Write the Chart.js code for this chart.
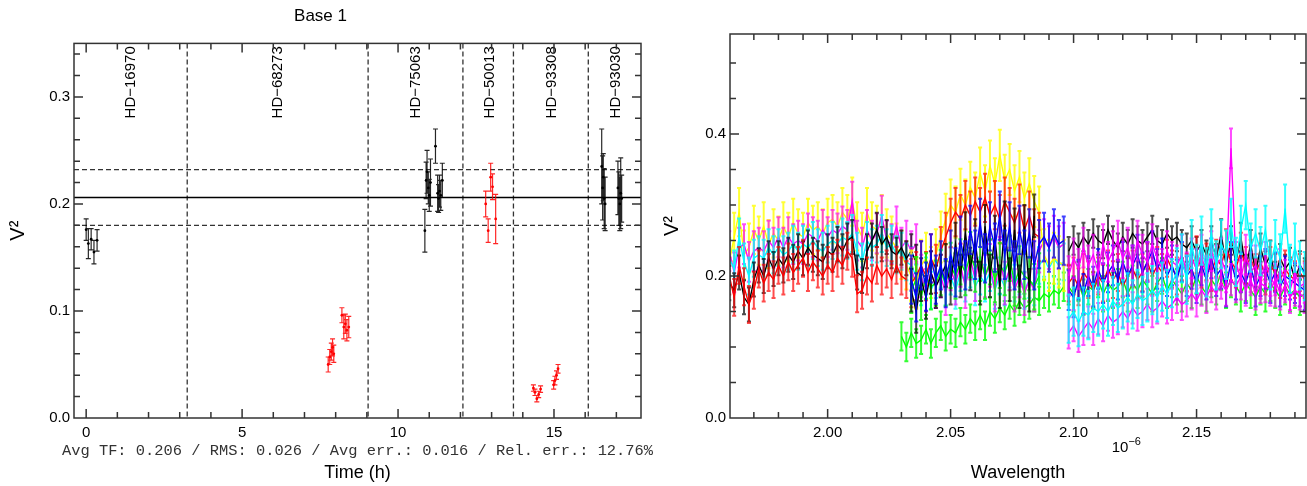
<!DOCTYPE html>
<html>
<head>
<meta charset="utf-8">
<script src="https://cdn.jsdelivr.net/npm/chart.js@4.4.1/dist/chart.umd.min.js"></script>
<style>
  body { margin: 0; background: #fff; }
  canvas { position: absolute; top: 0; }
  #left { left: 0; }
  #right { left: 660px; }
</style>
</head>
<body>
<canvas id="left" width="660" height="486"></canvas>
<canvas id="right" width="647" height="486"></canvas>
<script>
// ---- left panel: transfer function vs time ----
let calT = [0.00, 0.07, 0.16, 0.25, 0.35,
  10.86, 10.90, 10.93, 10.97, 11.00, 11.04, 11.20, 11.27, 11.30, 11.33, 11.37, 11.42,
  16.53, 16.56, 16.58, 16.61, 16.64, 17.05, 17.08, 17.11, 17.14, 17.17];
let calV = [0.176, 0.163, 0.167, 0.155, 0.166,
  0.175, 0.222, 0.230, 0.215, 0.208, 0.220, 0.254, 0.210, 0.205, 0.212, 0.208, 0.222,
  0.235, 0.215, 0.225, 0.205, 0.200, 0.215, 0.205, 0.200, 0.210, 0.205];
let calE = [0.010, 0.014, 0.010, 0.011, 0.010,
  0.020, 0.017, 0.020, 0.015, 0.015, 0.022, 0.016, 0.017, 0.013, 0.015, 0.014, 0.016,
  0.035, 0.030, 0.022, 0.028, 0.025, 0.025, 0.025, 0.025, 0.033, 0.022];

let sciT = [7.76, 7.81, 7.86, 7.90, 7.94, 8.20, 8.26, 8.31, 8.36, 8.42,
  12.81, 12.89, 12.97, 13.03, 13.13,
  14.34, 14.39, 14.45, 14.51, 14.57, 14.99, 15.03, 15.08, 15.13];
let sciV = [0.050, 0.057, 0.062, 0.066, 0.060, 0.096, 0.085, 0.088, 0.082, 0.085,
  0.200, 0.175, 0.225, 0.216, 0.186,
  0.028, 0.024, 0.018, 0.022, 0.027, 0.031, 0.035, 0.040, 0.046];
let sciE = [0.007, 0.007, 0.008, 0.008, 0.008, 0.007, 0.011, 0.009, 0.010, 0.010,
  0.012, 0.011, 0.013, 0.012, 0.023,
  0.003, 0.003, 0.003, 0.003, 0.003, 0.004, 0.004, 0.004, 0.004];

let tfLevels = [0.180, 0.206, 0.232];
let separators = [3.24, 9.04, 12.08, 13.70, 16.10];
let starNames = ['HD\u221216970', 'HD\u221268273', 'HD\u221275063', 'HD\u221250013', 'HD\u221293308', 'HD\u221293030'];
let starPos = [1.42, 6.15, 10.58, 12.95, 14.93, 16.97];
let timeTicks = [0, 5, 10, 15];
let leftV2Ticks = [0, 0.1, 0.2, 0.3];
let statsText = 'Avg TF: 0.206 / RMS: 0.026 / Avg err.: 0.016 / Rel. err.: 12.76%';

// ---- right panel: V2 vs wavelength (micron) ----
let lamA = [1.960, 1.962, 1.964, 1.966, 1.968, 1.970, 1.972, 1.974, 1.976, 1.978,
  1.980, 1.982, 1.984, 1.986, 1.988, 1.990, 1.992, 1.994, 1.996, 1.998,
  2.000, 2.002, 2.004, 2.006, 2.008, 2.010, 2.012, 2.014, 2.016, 2.018,
  2.020, 2.022, 2.024, 2.026, 2.028, 2.030, 2.032, 2.034, 2.036];
let redA = [0.200, 0.170, 0.215, 0.185, 0.160, 0.180, 0.210, 0.190, 0.205, 0.195,
  0.215, 0.200, 0.220, 0.205, 0.215, 0.225, 0.205, 0.220, 0.210, 0.200,
  0.215, 0.205, 0.225, 0.215, 0.235, 0.225, 0.175, 0.180, 0.200, 0.190,
  0.215, 0.200, 0.210, 0.195, 0.215, 0.200, 0.195];
let blackA = [0.190, 0.180, 0.205, 0.170, 0.160, 0.195, 0.215, 0.200, 0.225, 0.210,
  0.225, 0.215, 0.230, 0.220, 0.235, 0.225, 0.240, 0.230, 0.225, 0.220,
  0.235, 0.230, 0.245, 0.235, 0.250, 0.255, 0.205, 0.200, 0.235, 0.250,
  0.265, 0.245, 0.255, 0.235, 0.230, 0.240, 0.225, 0.235, 0.220];
let yellowA = [0.220, 0.255, 0.290, 0.230, 0.240, 0.265, 0.250, 0.270, 0.245, 0.260,
  0.250, 0.270, 0.255, 0.275, 0.260, 0.255, 0.275, 0.265, 0.270, 0.260,
  0.275, 0.280, 0.270, 0.290, 0.280, 0.305, 0.270, 0.255, 0.290, 0.270,
  0.265, 0.280, 0.260, 0.250, 0.240, 0.230, 0.215, 0.200, 0.190];
let magentaA = [0.235, 0.205, 0.240, 0.245, 0.220, 0.235, 0.240, 0.235, 0.250, 0.240,
  0.255, 0.240, 0.255, 0.245, 0.250, 0.245, 0.260, 0.255, 0.250, 0.265,
  0.255, 0.265, 0.260, 0.270, 0.265, 0.305, 0.250, 0.240, 0.265, 0.250,
  0.260, 0.285, 0.250, 0.245, 0.270, 0.240, 0.250, 0.235, 0.245];
let cyanA = [0.225, 0.210, 0.255, 0.220, 0.200, 0.225, 0.230, 0.225, 0.240, 0.230,
  0.240, 0.230, 0.235, 0.245, 0.235, 0.245, 0.240, 0.250, 0.240, 0.235,
  0.245, 0.250, 0.245, 0.255, 0.250, 0.260, 0.235, 0.220, 0.250, 0.240,
  0.245, 0.260, 0.240, 0.245, 0.230, 0.235, 0.220, 0.215, 0.200];

let lamG = [2.030, 2.032, 2.034, 2.036, 2.038, 2.040, 2.042, 2.044, 2.046, 2.048,
  2.050, 2.052, 2.054, 2.056, 2.058, 2.060, 2.062, 2.064, 2.066, 2.068,
  2.070, 2.072, 2.074, 2.076, 2.078, 2.080, 2.082, 2.084, 2.086, 2.088,
  2.090, 2.092, 2.094, 2.096];
let greenLow = [0.115, 0.100, 0.120, 0.105, 0.110, 0.125, 0.105, 0.120, 0.130, 0.115,
  0.125, 0.120, 0.135, 0.125, 0.140, 0.130, 0.145, 0.130, 0.150, 0.140,
  0.155, 0.145, 0.160, 0.150, 0.165, 0.155, 0.160, 0.170, 0.165, 0.175,
  0.170, 0.180, 0.175, 0.185];

let lamB = [2.034, 2.036, 2.038, 2.040, 2.042, 2.044, 2.046, 2.048, 2.050, 2.052,
  2.054, 2.056, 2.058, 2.060, 2.062, 2.064, 2.066, 2.068, 2.070, 2.072,
  2.074, 2.076, 2.078, 2.080, 2.082, 2.084, 2.086, 2.088, 2.090, 2.092,
  2.094, 2.096];
let blueB = [0.195, 0.170, 0.215, 0.185, 0.225, 0.195, 0.215, 0.190, 0.230, 0.205,
  0.250, 0.215, 0.265, 0.230, 0.275, 0.225, 0.270, 0.240, 0.285, 0.230,
  0.270, 0.215, 0.265, 0.230, 0.260, 0.215, 0.245, 0.255, 0.240, 0.260,
  0.245, 0.250];
let yellowB = [0.200, 0.190, 0.215, 0.225, 0.205, 0.230, 0.255, 0.280, 0.300, 0.290,
  0.315, 0.300, 0.325, 0.310, 0.345, 0.320, 0.355, 0.330, 0.370, 0.335,
  0.350, 0.320, 0.340, 0.310, 0.330, 0.305, 0.290, 0.230, 0.215, 0.225,
  0.220, 0.215];
let magentaB = [0.210, 0.190, 0.200, 0.180, 0.205, 0.185, 0.200, 0.175, 0.210, 0.190,
  0.215, 0.185, 0.225, 0.195, 0.230, 0.200, 0.215, 0.180, 0.225, 0.190,
  0.210, 0.180, 0.200, 0.175, 0.195, 0.180, 0.235, 0.250, 0.240, 0.255,
  0.240, 0.245];
let cyanB = [0.205, 0.190, 0.185, 0.200, 0.180, 0.195, 0.210, 0.185, 0.200, 0.180,
  0.205, 0.190, 0.210, 0.185, 0.200, 0.190, 0.205, 0.180, 0.200, 0.185,
  0.210, 0.190, 0.200, 0.180, 0.195, 0.185, 0.215, 0.225, 0.210, 0.225,
  0.215, 0.220];
let redB = [0.190, 0.200, 0.215, 0.200, 0.225, 0.210, 0.235, 0.255, 0.275, 0.290,
  0.280, 0.300, 0.285, 0.305, 0.290, 0.310, 0.285, 0.300, 0.280, 0.305,
  0.290, 0.275, 0.295, 0.265, 0.285, 0.260, 0.255];
let blackB = [0.180, 0.150, 0.195, 0.170, 0.205, 0.185, 0.200, 0.215, 0.190, 0.245,
  0.200, 0.260, 0.210, 0.250, 0.190, 0.270, 0.200, 0.255, 0.185, 0.275,
  0.195, 0.265, 0.185, 0.270, 0.180, 0.285];
let greenB = [0.180, 0.195, 0.170, 0.200, 0.185, 0.190, 0.205, 0.190, 0.215, 0.200,
  0.220, 0.205, 0.230, 0.210, 0.225, 0.200, 0.220, 0.195, 0.215, 0.205,
  0.225, 0.190, 0.210, 0.200, 0.195, 0.185, 0.200];

let lamD = [2.098, 2.100, 2.102, 2.104, 2.106, 2.108, 2.110, 2.112, 2.114, 2.116,
  2.118, 2.120, 2.122, 2.124, 2.126, 2.128, 2.130, 2.132, 2.134, 2.136,
  2.138, 2.140, 2.142, 2.144, 2.146, 2.148, 2.150, 2.152, 2.154, 2.156,
  2.158, 2.160, 2.162, 2.164, 2.166, 2.168, 2.170, 2.172, 2.174, 2.176,
  2.178, 2.180, 2.182, 2.184, 2.186, 2.188, 2.190, 2.192, 2.194];
let blackD = [0.235, 0.250, 0.240, 0.255, 0.245, 0.260, 0.250, 0.245, 0.265, 0.250,
  0.240, 0.255, 0.245, 0.260, 0.250, 0.245, 0.255, 0.265, 0.250, 0.245,
  0.260, 0.250, 0.255, 0.245, 0.240, 0.250, 0.235, 0.245, 0.230, 0.250,
  0.225, 0.260, 0.215, 0.250, 0.220, 0.255, 0.210, 0.245, 0.205, 0.240,
  0.215, 0.230, 0.200, 0.225, 0.210, 0.220, 0.195, 0.215, 0.205];
let magentaLowD = [0.120, 0.130, 0.115, 0.125, 0.135, 0.125, 0.140, 0.130, 0.145, 0.135,
  0.140, 0.150, 0.140, 0.155, 0.145, 0.150, 0.160, 0.150, 0.155, 0.165,
  0.155, 0.160, 0.170, 0.160, 0.165, 0.175, 0.165, 0.180, 0.170, 0.185,
  0.175, 0.190, 0.180, 0.195, 0.185, 0.200, 0.180, 0.195, 0.175, 0.190,
  0.185, 0.180, 0.195, 0.175, 0.185, 0.170, 0.180, 0.175, 0.170];
let magentaHighD = [0.200, 0.225, 0.210, 0.240, 0.215, 0.230, 0.205, 0.245, 0.220, 0.235,
  0.250, 0.225, 0.240, 0.215, 0.250, 0.230, 0.220, 0.245, 0.225, 0.210,
  0.235, 0.220, 0.215, 0.230, 0.205, 0.225, 0.210, 0.230, 0.200, 0.235,
  0.215, 0.225, 0.205, 0.380, 0.220, 0.195, 0.230, 0.205, 0.215, 0.190,
  0.220, 0.200, 0.185, 0.210, 0.195, 0.180, 0.205, 0.185, 0.190];
let cyanD = [0.140, 0.150, 0.135, 0.150, 0.145, 0.155, 0.150, 0.160, 0.150, 0.165,
  0.155, 0.160, 0.170, 0.160, 0.175, 0.165, 0.170, 0.180, 0.170, 0.185,
  0.175, 0.190, 0.205, 0.225, 0.195, 0.245, 0.210, 0.250, 0.205, 0.260,
  0.215, 0.245, 0.230, 0.275, 0.220, 0.265, 0.300, 0.240, 0.260, 0.235,
  0.265, 0.215, 0.245, 0.225, 0.295, 0.210, 0.240, 0.215, 0.200];
let blueD = [0.180, 0.170, 0.195, 0.175, 0.200, 0.185, 0.210, 0.190, 0.205, 0.215,
  0.195, 0.220, 0.200, 0.215, 0.230, 0.205, 0.220, 0.235, 0.210, 0.225,
  0.200, 0.215, 0.195, 0.220, 0.200, 0.210, 0.190, 0.215, 0.195, 0.225,
  0.200, 0.210, 0.185, 0.220, 0.195, 0.205, 0.190, 0.215, 0.185, 0.200,
  0.210, 0.190, 0.205, 0.185, 0.200, 0.195, 0.190, 0.185, 0.180];
let greenD = [0.185, 0.175, 0.190, 0.170, 0.185, 0.180, 0.195, 0.175, 0.190, 0.180,
  0.185, 0.195, 0.175, 0.190, 0.180, 0.195, 0.185, 0.175, 0.190, 0.200,
  0.180, 0.195, 0.185, 0.175, 0.190, 0.180, 0.200, 0.185, 0.175, 0.195,
  0.185, 0.205, 0.180, 0.195, 0.185, 0.175, 0.190, 0.180, 0.170, 0.185,
  0.175, 0.190, 0.180, 0.170, 0.185, 0.175, 0.180, 0.170, 0.175];
let redD = [0.190, 0.200, 0.185, 0.205, 0.195, 0.180, 0.200, 0.190, 0.210, 0.195,
  0.205, 0.185, 0.200, 0.210, 0.195, 0.205, 0.220, 0.200, 0.215, 0.205,
  0.225, 0.210, 0.200, 0.220, 0.205, 0.215, 0.230, 0.210, 0.220, 0.205,
  0.225, 0.215, 0.240, 0.220, 0.210, 0.235, 0.215, 0.225, 0.205, 0.220,
  0.200, 0.215, 0.205, 0.195, 0.210, 0.200, 0.195, 0.205, 0.195];

let lamTicks = [2.00, 2.05, 2.10, 2.15];
let rightV2Ticks = [0, 0.2, 0.4];

Chart.defaults.font.family = '"Liberation Sans", Arial, sans-serif';
Chart.defaults.color = '#000';

function toPoints(xs, ys) {
  return ys.map((v, i) => ({ x: xs[i], y: v }));
}

// vertical error bars, drawn under each dataset's own line/points
const errorBars = {
  id: 'errorBars',
  beforeDatasetDraw(chart, args) {
    let ds = chart.data.datasets[args.index];
    if (!ds.errors) return;
    let ctx = chart.ctx, a = chart.chartArea;
    let xs = chart.scales.x, ys = chart.scales.y;
    let cap = ds.capSize || 2;
    ctx.save();
    ctx.beginPath();
    ctx.rect(a.left, a.top, a.right - a.left, a.bottom - a.top);
    ctx.clip();
    ctx.strokeStyle = ds.barColor || ds.borderColor;
    ctx.lineWidth = ds.barWidth || 1;
    ctx.beginPath();
    ds.data.forEach((p, i) => {
      let e = Array.isArray(ds.errors) ? ds.errors[i] : ds.errors;
      let px = xs.getPixelForValue(p.x);
      let y1 = ys.getPixelForValue(p.y - e);
      let y2 = ys.getPixelForValue(p.y + e);
      ctx.moveTo(px, y1); ctx.lineTo(px, y2);
      ctx.moveTo(px - cap, y1); ctx.lineTo(px + cap, y1);
      ctx.moveTo(px - cap, y2); ctx.lineTo(px + cap, y2);
    });
    ctx.stroke();
    ctx.restore();
  }
};

// box around the plot with inward ticks on all four sides
const frame = {
  id: 'frame',
  afterDraw(chart, args, o) {
    let ctx = chart.ctx, a = chart.chartArea;
    let xs = chart.scales.x, ys = chart.scales.y;
    ctx.save();
    ctx.strokeStyle = '#333';
    ctx.lineWidth = 1.5;
    ctx.strokeRect(a.left, a.top, a.right - a.left, a.bottom - a.top);
    ctx.beginPath();
    for (let k = 0; ; k++) {
      let v = o.xFrom + k * o.xStep;
      if (v > o.xTo + 1e-9) break;
      let r = v / o.xMajor;
      let len = Math.abs(r - Math.round(r)) < 1e-6 ? 9 : 6;
      let p = xs.getPixelForValue(v);
      ctx.moveTo(p, a.bottom); ctx.lineTo(p, a.bottom - len);
      ctx.moveTo(p, a.top); ctx.lineTo(p, a.top + len);
    }
    for (let k = 0; ; k++) {
      let v = o.yFrom + k * o.yStep;
      if (v > o.yTo + 1e-9) break;
      let r = v / o.yMajor;
      let len = Math.abs(r - Math.round(r)) < 1e-6 ? 9 : 6;
      let p = ys.getPixelForValue(v);
      ctx.moveTo(a.left, p); ctx.lineTo(a.left + len, p);
      ctx.moveTo(a.right, p); ctx.lineTo(a.right - len, p);
    }
    ctx.stroke();
    ctx.restore();
  }
};

// reference lines, star names and statistics line of the left panel
const leftDecor = {
  id: 'leftDecor',
  beforeDatasetsDraw(chart) {
    let ctx = chart.ctx, a = chart.chartArea;
    let xs = chart.scales.x, ys = chart.scales.y;
    ctx.save();
    ctx.strokeStyle = '#333';
    ctx.lineWidth = 1.3;
    ctx.setLineDash([5, 3]);
    separators.forEach(t => {
      let p = xs.getPixelForValue(t);
      ctx.beginPath(); ctx.moveTo(p, a.top); ctx.lineTo(p, a.bottom); ctx.stroke();
    });
    tfLevels.forEach((v, i) => {
      let p = ys.getPixelForValue(v);
      ctx.setLineDash(i === 1 ? [] : [5, 3]);
      ctx.strokeStyle = i === 1 ? '#000' : '#333';
      ctx.beginPath(); ctx.moveTo(a.left, p); ctx.lineTo(a.right, p); ctx.stroke();
    });
    ctx.fillStyle = '#000';
    ctx.font = '15px "Liberation Sans", Arial, sans-serif';
    ctx.textAlign = 'left';
    ctx.textBaseline = 'middle';
    starNames.forEach((name, i) => {
      ctx.save();
      ctx.translate(xs.getPixelForValue(starPos[i]), a.top + 75);
      ctx.rotate(-Math.PI / 2);
      ctx.fillText(name, 0, 0);
      ctx.restore();
    });
    ctx.restore();
  },
  afterDraw(chart) {
    let ctx = chart.ctx, a = chart.chartArea;
    ctx.save();
    ctx.fillStyle = '#333';
    ctx.font = '15.4px "Liberation Mono", "Courier New", monospace';
    ctx.textAlign = 'center';
    ctx.textBaseline = 'alphabetic';
    ctx.fillText(statsText, (a.left + a.right) / 2, a.bottom + 37);
    ctx.restore();
  }
};

// exponent note of the wavelength axis
const rightDecor = {
  id: 'rightDecor',
  afterDraw(chart) {
    let ctx = chart.ctx, a = chart.chartArea;
    let x0 = chart.scales.x.getPixelForValue(2.1155);
    ctx.save();
    ctx.fillStyle = '#000';
    ctx.textAlign = 'left';
    ctx.textBaseline = 'alphabetic';
    ctx.font = '15px "Liberation Sans", Arial, sans-serif';
    ctx.fillText('10', x0, a.bottom + 34);
    let w = ctx.measureText('10').width;
    ctx.font = '11px "Liberation Sans", Arial, sans-serif';
    ctx.fillText('\u22126', x0 + w, a.bottom + 27);
    ctx.restore();
  }
};

new Chart(document.getElementById('left'), {
  type: 'scatter',
  data: {
    datasets: [
      { data: toPoints(sciT, sciV), errors: sciE, borderColor: '#ff0000', backgroundColor: '#ff0000',
        barColor: 'rgba(255,0,0,0.85)', barWidth: 1.2, pointRadius: 1.4, pointBorderWidth: 0, capSize: 2.5, showLine: false },
      { data: toPoints(calT, calV), errors: calE, borderColor: '#000', backgroundColor: '#000',
        barColor: 'rgba(0,0,0,0.85)', barWidth: 1.2, pointRadius: 1.4, pointBorderWidth: 0, capSize: 2.5, showLine: false }
    ]
  },
  options: {
    responsive: false,
    animation: false,
    layout: { padding: { left: 0, right: 19, top: 0, bottom: 0 } },
    plugins: {
      legend: { display: false },
      tooltip: { enabled: false },
      title: { display: true, text: 'Base 1', color: '#000',
        font: { size: 17, weight: 'normal' }, padding: { top: 6, bottom: 17 } },
      frame: { xFrom: 0, xTo: 17, xStep: 1, xMajor: 5, yFrom: 0.02, yTo: 0.34, yStep: 0.02, yMajor: 0.1 }
    },
    scales: {
      x: {
        type: 'linear', min: -0.39, max: 17.79,
        grid: { display: false, drawTicks: false }, border: { display: false },
        afterBuildTicks: s => { s.ticks = timeTicks.map(v => ({ value: v })); },
        afterFit: s => { s.height = 68; },
        ticks: { font: { size: 15 }, padding: 6, maxRotation: 0, callback: v => String(v) },
        title: { display: true, text: 'Time (h)', font: { size: 18 }, padding: { top: 0, bottom: 2 } }
      },
      y: {
        type: 'linear', min: 0, max: 0.35,
        grid: { display: false, drawTicks: false }, border: { display: false },
        afterBuildTicks: s => { s.ticks = leftV2Ticks.map(v => ({ value: v })); },
        afterFit: s => { s.width = 74; },
        ticks: { font: { size: 15 }, padding: 4, callback: v => v.toFixed(1) },
        title: { display: true, text: 'V\u00b2', font: { size: 20 }, padding: { top: 6, bottom: 0 } }
      }
    }
  },
  plugins: [errorBars, frame, leftDecor]
});

// back-to-front list of spectra: [wavelengths, values, error, colour, bar colour]
let spectra = [
  [lamA, yellowA, 0.034, '#ffff00', 'rgba(255,255,0,0.8)'],
  [lamA, magentaA, 0.028, '#ff00ff', 'rgba(255,0,255,0.7)'],
  [lamA, cyanA, 0.026, '#00ffff', 'rgba(0,255,255,0.8)'],
  [lamA, blackA, 0.024, '#000000', 'rgba(0,0,0,0.7)'],
  [lamA, redA, 0.026, '#ff0000', 'rgba(255,0,0,0.7)'],
  [lamG, greenLow, 0.020, '#00ff00', 'rgba(0,255,0,0.8)'],
  [lamB, cyanB, 0.026, '#00ffff', 'rgba(0,255,255,0.8)'],
  [lamB, magentaB, 0.030, '#ff00ff', 'rgba(255,0,255,0.7)'],
  [lamB, yellowB, 0.036, '#ffff00', 'rgba(255,255,0,0.8)'],
  [lamB, redB, 0.034, '#ff0000', 'rgba(255,0,0,0.7)'],
  [lamB, greenB, 0.032, '#00ff00', 'rgba(0,255,0,0.8)'],
  [lamB, blackB, 0.030, '#000000', 'rgba(0,0,0,0.7)'],
  [lamB, blueB, 0.034, '#0000ff', 'rgba(0,0,255,0.75)'],
  [lamD, blackD, 0.020, '#000000', 'rgba(0,0,0,0.7)'],
  [lamD, greenD, 0.025, '#00ff00', 'rgba(0,255,0,0.8)'],
  [lamD, redD, 0.026, '#ff0000', 'rgba(255,0,0,0.7)'],
  [lamD, blueD, 0.028, '#0000ff', 'rgba(0,0,255,0.75)'],
  [lamD, magentaHighD, 0.028, '#ff00ff', 'rgba(255,0,255,0.7)'],
  [lamD, magentaLowD, 0.022, '#ff00ff', 'rgba(255,0,255,0.7)'],
  [lamD, cyanD, 0.034, '#00ffff', 'rgba(0,255,255,0.8)']
];

let spectraSets = spectra.map(s => ({
  data: toPoints(s[0], s[1]),
  errors: s[2],
  borderColor: s[3],
  backgroundColor: s[3],
  barColor: s[4],
  borderWidth: 1.4,
  barWidth: 2,
  capSize: 2,
  pointRadius: 0,
  showLine: true,
  tension: 0
})).reverse();

new Chart(document.getElementById('right'), {
  type: 'scatter',
  data: { datasets: spectraSets },
  options: {
    responsive: false,
    animation: false,
    layout: { padding: { left: 0, right: 1, top: 34, bottom: 0 } },
    plugins: {
      legend: { display: false },
      tooltip: { enabled: false },
      frame: { xFrom: 1.97, xTo: 2.19, xStep: 0.01, xMajor: 0.05, yFrom: 0.05, yTo: 0.5, yStep: 0.05, yMajor: 0.2 }
    },
    scales: {
      x: {
        type: 'linear', min: 1.9603, max: 2.1945,
        grid: { display: false, drawTicks: false }, border: { display: false },
        afterBuildTicks: s => { s.ticks = lamTicks.map(v => ({ value: v })); },
        afterFit: s => { s.height = 68; },
        ticks: { font: { size: 15 }, padding: 6, maxRotation: 0, callback: v => v.toFixed(2) },
        title: { display: true, text: 'Wavelength', font: { size: 18 }, padding: { top: 0, bottom: 2 } }
      },
      y: {
        type: 'linear', min: 0, max: 0.541,
        grid: { display: false, drawTicks: false }, border: { display: false },
        afterBuildTicks: s => { s.ticks = rightV2Ticks.map(v => ({ value: v })); },
        afterFit: s => { s.width = 70; },
        ticks: { font: { size: 15 }, padding: 4, callback: v => v.toFixed(1) },
        title: { display: true, text: 'V\u00b2', font: { size: 20 }, padding: { top: 0, bottom: 0 } }
      }
    }
  },
  plugins: [errorBars, frame, rightDecor]
});
</script>
</body>
</html>
